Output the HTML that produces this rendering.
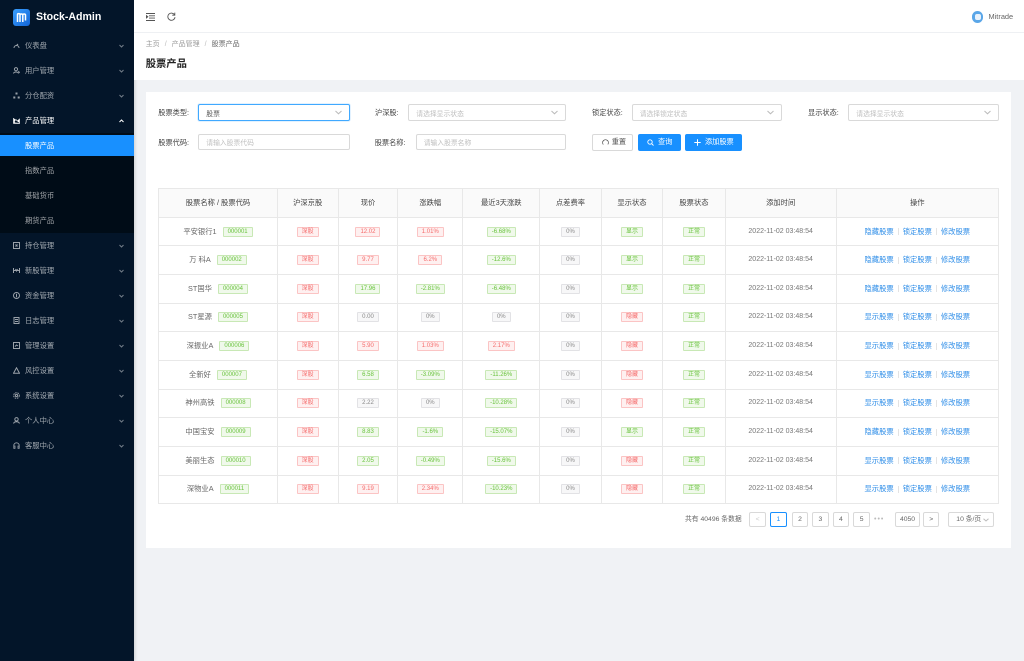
<!DOCTYPE html>
<html><head><meta charset="utf-8">
<style>
*{box-sizing:border-box;margin:0;padding:0}
html,body{width:1024px;height:661px;overflow:hidden}
body{position:relative;background:#f0f2f5;font-family:"Liberation Sans","Noto Sans CJK SC",sans-serif;color:#595959}
.abs{position:absolute}
#side{position:absolute;left:0;top:0;width:134px;height:661px;background:#031529;box-shadow:1px 0 3px rgba(0,0,0,.15)}
.logo{position:absolute;left:12.5px;top:9.3px;width:17px;height:17px;border-radius:3px;background:linear-gradient(135deg,#3aa0ff,#1264d6)}
.brand{position:absolute;left:36px;top:9px;height:17px;line-height:17px;color:#fff;font-weight:bold;font-size:10.6px;white-space:nowrap}
.mi{position:absolute;left:0;width:134px;height:25px;color:rgba(255,255,255,.62);font-size:7.3px;white-space:nowrap}
.mi svg.ic{position:absolute;left:12.5px;top:9px}
.mi span{position:absolute;left:25px;top:0;line-height:25px}
.mi svg.cv{position:absolute;left:119px;top:11px}
#sub{position:absolute;left:0;top:133px;width:134px;height:100px;background:#000c17}
#selbg{position:absolute;left:0;top:135px;width:134px;height:21px;background:#1890ff}
#hdr{position:absolute;left:134px;top:0;width:890px;height:33px;background:#fff;border-bottom:1px solid #eef0f3}
#crumb{position:absolute;left:134px;top:33px;width:890px;height:46.5px;background:#fff}
#card{position:absolute;left:146px;top:92px;width:865px;height:456px;background:#fff}
.lbl{position:absolute;font-size:7.2px;color:#444;line-height:17px;white-space:nowrap}
.inp{position:absolute;height:16.5px;border:1px solid #d9d9d9;border-radius:2px;background:#fff;font-size:6.8px;color:#bfbfbf;padding-left:7px;white-space:nowrap;display:flex;align-items:center}
.inp svg{position:absolute;right:7px;top:5px}
.btn{position:absolute;height:16.4px;border-radius:2px;font-size:7.2px;white-space:nowrap}
.btn span{position:absolute;top:0;line-height:16.4px}
.tbl{position:absolute;left:158.3px;top:188.3px;width:840.7px;border-left:1px solid #e8e8e8;border-top:1px solid #e8e8e8}
.tr{display:flex;border-bottom:1px solid #e8e8e8}
.tr>div{border-right:1px solid #e8e8e8;display:flex;align-items:center;justify-content:center;white-space:nowrap;font-size:7.3px;color:#666}
.tr>div>span{display:block;line-height:10px;height:10px}
.th{height:28.4px;background:#fafafa}
.rw{height:28.66px}
.tr>div:nth-child(1){width:118.4px}
.tr>div:nth-child(2){width:61px}
.tr>div:nth-child(3){width:59.6px}
.tr>div:nth-child(4){width:65px}
.tr>div:nth-child(5){width:77px}
.tr>div:nth-child(6){width:61.4px}
.tr>div:nth-child(7){width:61.6px}
.tr>div:nth-child(8){width:62.4px}
.tr>div:nth-child(9){width:111px}
.rw>div:nth-child(9){color:#777;font-size:7px}
.tr>div:nth-child(10){width:162.3px}
.th>div{color:#444}
.tr>div>span.tg{font-size:6px;height:10px;line-height:8px;padding:0 4px;border-width:1px;border-style:solid;border-radius:1px}
.tr>div>span.g{color:#67c23a;background:#f0f9eb;border-color:#c8e8b5}
.tr>div>span.r{color:#f56c6c;background:#fef0f0;border-color:#fbc4c4}
.tr>div>span.d{color:#888;background:#f7f7f8;border-color:#e2e2e5}
.tr>div>span.nm{margin-right:6px;color:#666}
.ln{color:#2f8ee8}
.sp{display:block;width:1px;height:7px;background:#e3e3e3;margin:0 4px}
.pg{position:absolute;top:511.7px;height:15.8px;border:1px solid #d9d9d9;border-radius:2px;background:#fff;font-size:6.8px;color:#666;text-align:center;line-height:13.8px}
</style></head><body>

<div id="side">
  <div class="logo"><svg width="17" height="17" viewBox="0 0 17 17"><path d="M4.5 13V5.5c0-1.2 2.5-1.2 2.5 0V13M7 6c0-1.4 2.8-1.4 2.8 0v7M9.8 6c0-1.4 2.7-1.4 2.7 0v5.5" stroke="#fff" stroke-width="1.5" fill="none"/></svg></div>
  <div class="brand">Stock-Admin</div>
  <div id="sub"></div>
  <div id="selbg"></div>

  <div class="mi" style="top:33.2px"><svg class="ic" width="7" height="7"><path d="M1 6a2.5 2.5 0 1 1 5 0M3.5 3.5l1.5-1.5" stroke="rgba(255,255,255,.6)" fill="none"/></svg><span>仪表盘</span><svg class="cv" width="5" height="4"><path d="M.5 1l2 2 2-2" stroke="rgba(255,255,255,.45)" fill="none"/></svg></div>
  <div class="mi" style="top:58.2px"><svg class="ic" width="7" height="7"><circle cx="3" cy="2.2" r="1.6" stroke="rgba(255,255,255,.6)" fill="none"/><path d="M.5 6.5c.5-2 4.5-2 5 0M5.5 4l1 2" stroke="rgba(255,255,255,.6)" fill="none"/></svg><span>用户管理</span><svg class="cv" width="5" height="4"><path d="M.5 1l2 2 2-2" stroke="rgba(255,255,255,.45)" fill="none"/></svg></div>
  <div class="mi" style="top:83.2px"><svg class="ic" width="7" height="7"><rect x="2.5" y=".5" width="2" height="2" fill="rgba(255,255,255,.6)"/><rect x=".3" y="4.5" width="2" height="2" fill="rgba(255,255,255,.6)"/><rect x="4.7" y="4.5" width="2" height="2" fill="rgba(255,255,255,.6)"/></svg><span>分仓配资</span><svg class="cv" width="5" height="4"><path d="M.5 1l2 2 2-2" stroke="rgba(255,255,255,.45)" fill="none"/></svg></div>
  <div class="mi" style="top:108.2px;color:#fff"><svg class="ic" width="7" height="7"><path d="M.5 1v5.5h6.5M1.5 5.5V4l1.5-1.5 1.5 1.5 2-2v4" fill="#fff" stroke="#fff" stroke-width=".6"/></svg><span>产品管理</span><svg class="cv" width="5" height="4"><path d="M.5 3l2-2 2 2" stroke="#fff" fill="none"/></svg></div>

  <div class="mi" style="top:133.2px;color:#fff"><span>股票产品</span></div>
  <div class="mi" style="top:158.2px"><span>指数产品</span></div>
  <div class="mi" style="top:183.2px"><span>基础货币</span></div>
  <div class="mi" style="top:208.2px"><span>期货产品</span></div>

  <div class="mi" style="top:233.2px"><svg class="ic" width="7" height="7"><rect x=".5" y=".5" width="6" height="6" stroke="rgba(255,255,255,.6)" fill="none"/><path d="M2.5 2.5l2 2M4.5 2.5l-2 2" stroke="rgba(255,255,255,.6)"/></svg><span>持仓管理</span><svg class="cv" width="5" height="4"><path d="M.5 1l2 2 2-2" stroke="rgba(255,255,255,.45)" fill="none"/></svg></div>
  <div class="mi" style="top:258.2px"><svg class="ic" width="7" height="7"><path d="M.5 1v5M6.5 1v5M.5 3.5h6M2.5 2l1 2 1-2" stroke="rgba(255,255,255,.6)" fill="none"/></svg><span>新股管理</span><svg class="cv" width="5" height="4"><path d="M.5 1l2 2 2-2" stroke="rgba(255,255,255,.45)" fill="none"/></svg></div>
  <div class="mi" style="top:283.2px"><svg class="ic" width="7" height="7"><circle cx="3.5" cy="3.5" r="3" stroke="rgba(255,255,255,.6)" fill="none"/><path d="M3.5 1.8v3.4" stroke="rgba(255,255,255,.6)"/></svg><span>资金管理</span><svg class="cv" width="5" height="4"><path d="M.5 1l2 2 2-2" stroke="rgba(255,255,255,.45)" fill="none"/></svg></div>
  <div class="mi" style="top:308.2px"><svg class="ic" width="7" height="7"><rect x="1" y=".5" width="5" height="6" stroke="rgba(255,255,255,.6)" fill="none"/><path d="M2 2.5h3M2 4.5h3" stroke="rgba(255,255,255,.6)"/></svg><span>日志管理</span><svg class="cv" width="5" height="4"><path d="M.5 1l2 2 2-2" stroke="rgba(255,255,255,.45)" fill="none"/></svg></div>
  <div class="mi" style="top:333.2px"><svg class="ic" width="7" height="7"><rect x=".5" y=".5" width="6" height="6" stroke="rgba(255,255,255,.6)" fill="none"/><path d="M2 4.5l1.5-1.5 1.5 1" stroke="rgba(255,255,255,.6)" fill="none"/></svg><span>管理设置</span><svg class="cv" width="5" height="4"><path d="M.5 1l2 2 2-2" stroke="rgba(255,255,255,.45)" fill="none"/></svg></div>
  <div class="mi" style="top:358.2px"><svg class="ic" width="7" height="7"><path d="M3.5 .8L6.5 6.3H.5z" stroke="rgba(255,255,255,.6)" fill="none"/></svg><span>风控设置</span><svg class="cv" width="5" height="4"><path d="M.5 1l2 2 2-2" stroke="rgba(255,255,255,.45)" fill="none"/></svg></div>
  <div class="mi" style="top:383.2px"><svg class="ic" width="7" height="7"><circle cx="3.5" cy="3.5" r="2.8" stroke="rgba(255,255,255,.6)" fill="none" stroke-dasharray="1.5 .8"/><circle cx="3.5" cy="3.5" r="1.1" stroke="rgba(255,255,255,.6)" fill="none"/></svg><span>系统设置</span><svg class="cv" width="5" height="4"><path d="M.5 1l2 2 2-2" stroke="rgba(255,255,255,.45)" fill="none"/></svg></div>
  <div class="mi" style="top:408.2px"><svg class="ic" width="7" height="7"><circle cx="3.5" cy="2.3" r="1.7" stroke="rgba(255,255,255,.6)" fill="none"/><path d="M.6 6.6c.4-2.4 5.4-2.4 5.8 0" stroke="rgba(255,255,255,.6)" fill="none"/></svg><span>个人中心</span><svg class="cv" width="5" height="4"><path d="M.5 1l2 2 2-2" stroke="rgba(255,255,255,.45)" fill="none"/></svg></div>
  <div class="mi" style="top:433.2px"><svg class="ic" width="7" height="7"><path d="M.8 5V3.5a2.7 2.7 0 0 1 5.4 0V5M.8 4h1.2v2.3H.8zM5 4h1.2v2.3H5z" stroke="rgba(255,255,255,.6)" fill="none" stroke-width=".8"/></svg><span>客服中心</span><svg class="cv" width="5" height="4"><path d="M.5 1l2 2 2-2" stroke="rgba(255,255,255,.45)" fill="none"/></svg></div>
</div>

<div id="hdr">
  <svg class="abs" style="left:11.5px;top:12.5px" width="9" height="8"><path d="M0 .5h9M3 2.8h6M3 5.1h6M0 7.5h9M.2 2.5l1.6 1.3-1.6 1.3z" stroke="#555" stroke-width=".9" fill="#555"/></svg>
  <svg class="abs" style="left:33px;top:12px" width="9" height="9"><path d="M7.6 3A3.6 3.6 0 1 0 8 5.2M7.8 .6v2.6H5.2" stroke="#555" stroke-width=".9" fill="none"/></svg>
  <div class="abs" style="left:837.7px;top:11px;width:11.6px;height:11.6px;border-radius:50%;background:#5aa6e8"></div>
  <div class="abs" style="left:840.5px;top:14px;width:6px;height:5.6px;border-radius:2px;background:#e8f2fc"></div>
  <div class="abs" style="left:854.5px;top:9px;line-height:15px;font-size:7.4px;color:#666">Mitrade</div>
</div>

<div id="crumb">
  <div class="abs" style="left:11.7px;top:7px;line-height:10px;font-size:7px;color:#999;white-space:nowrap">主页<span style="margin:0 5px;color:#bbb">/</span>产品管理<span style="margin:0 5px;color:#bbb">/</span><span style="color:#666">股票产品</span></div>
  <div class="abs" style="left:11.7px;top:23.5px;line-height:15px;font-size:10.3px;color:#222;font-weight:bold;white-space:nowrap">股票产品</div>
</div>

<div id="card"></div>

<!-- form row 1 -->
<div class="lbl" style="left:158.3px;top:104px">股票类型:</div>
<div class="inp" style="left:198.3px;top:104.3px;width:151.4px;border-color:#40a9ff;box-shadow:0 0 0 1px rgba(24,144,255,.12);color:#555">股票<svg width="7" height="5"><path d="M.5 1l3 2.8L6.5 1" stroke="#bbb" fill="none"/></svg></div>
<div class="lbl" style="left:375px;top:104px">沪深股:</div>
<div class="inp" style="left:408.3px;top:104.3px;width:157.4px">请选择显示状态<svg width="7" height="5"><path d="M.5 1l3 2.8L6.5 1" stroke="#bbb" fill="none"/></svg></div>
<div class="lbl" style="left:592px;top:104px">锁定状态:</div>
<div class="inp" style="left:631.7px;top:104.3px;width:150.6px">请选择锁定状态<svg width="7" height="5"><path d="M.5 1l3 2.8L6.5 1" stroke="#bbb" fill="none"/></svg></div>
<div class="lbl" style="left:808px;top:104px">显示状态:</div>
<div class="inp" style="left:848.3px;top:104.3px;width:150.4px">请选择显示状态<svg width="7" height="5"><path d="M.5 1l3 2.8L6.5 1" stroke="#bbb" fill="none"/></svg></div>

<!-- form row 2 -->
<div class="lbl" style="left:158.3px;top:133.5px">股票代码:</div>
<div class="inp" style="left:198.3px;top:133.7px;width:151.4px">请输入股票代码</div>
<div class="lbl" style="left:374.7px;top:133.5px">股票名称:</div>
<div class="inp" style="left:415.7px;top:133.7px;width:150px">请输入股票名称</div>

<div class="btn" style="left:591.7px;top:134.3px;width:41.6px;border:1px solid #d9d9d9;background:#fff;color:#555"><svg class="abs" style="left:9px;top:4.2px" width="7" height="7"><path d="M1.3 5.5A2.9 2.9 0 1 1 5.8 5.4" stroke="#555" stroke-width=".8" fill="none"/></svg><span style="left:19px;line-height:14.4px">重置</span></div>
<div class="btn" style="left:638.3px;top:134.3px;width:42.4px;background:#1890ff;color:#fff"><svg class="abs" style="left:8.5px;top:4.6px" width="7" height="7"><circle cx="3" cy="3" r="2.2" stroke="#fff" stroke-width=".9" fill="none"/><path d="M4.6 4.6l1.9 1.9" stroke="#fff" stroke-width=".9"/></svg><span style="left:19.7px">查询</span></div>
<div class="btn" style="left:685.3px;top:134.3px;width:57px;background:#1890ff;color:#fff"><svg class="abs" style="left:8.5px;top:5px" width="7" height="7"><path d="M3.5 .3v6.4M.3 3.5h6.4" stroke="#fff" stroke-width="1"/></svg><span style="left:19.7px">添加股票</span></div>

<!-- table -->
<div class="tbl">
 <div class="tr th"><div><span>股票名称 / 股票代码</span></div><div><span>沪深京股</span></div><div><span>现价</span></div><div><span>涨跌幅</span></div><div><span>最近3天涨跌</span></div><div><span>点差费率</span></div><div><span>显示状态</span></div><div><span>股票状态</span></div><div><span>添加时间</span></div><div><span>操作</span></div></div>

 <div class="tr rw"><div><span class="nm">平安银行1</span><span class="tg g">000001</span></div><div><span class="tg r">深股</span></div><div><span class="tg r">12.02</span></div><div><span class="tg r">1.01%</span></div><div><span class="tg g">-6.68%</span></div><div><span class="tg d">0%</span></div><div><span class="tg g">显示</span></div><div><span class="tg g">正常</span></div><div><span>2022-11-02 03:48:54</span></div><div><span class="ln">隐藏股票</span><i class="sp"></i><span class="ln">锁定股票</span><i class="sp"></i><span class="ln">修改股票</span></div></div>

 <div class="tr rw"><div><span class="nm">万 科A</span><span class="tg g">000002</span></div><div><span class="tg r">深股</span></div><div><span class="tg r">9.77</span></div><div><span class="tg r">6.2%</span></div><div><span class="tg g">-12.6%</span></div><div><span class="tg d">0%</span></div><div><span class="tg g">显示</span></div><div><span class="tg g">正常</span></div><div><span>2022-11-02 03:48:54</span></div><div><span class="ln">隐藏股票</span><i class="sp"></i><span class="ln">锁定股票</span><i class="sp"></i><span class="ln">修改股票</span></div></div>

 <div class="tr rw"><div><span class="nm">ST国华</span><span class="tg g">000004</span></div><div><span class="tg r">深股</span></div><div><span class="tg g">17.96</span></div><div><span class="tg g">-2.81%</span></div><div><span class="tg g">-6.48%</span></div><div><span class="tg d">0%</span></div><div><span class="tg g">显示</span></div><div><span class="tg g">正常</span></div><div><span>2022-11-02 03:48:54</span></div><div><span class="ln">隐藏股票</span><i class="sp"></i><span class="ln">锁定股票</span><i class="sp"></i><span class="ln">修改股票</span></div></div>

 <div class="tr rw"><div><span class="nm">ST星源</span><span class="tg g">000005</span></div><div><span class="tg r">深股</span></div><div><span class="tg d">0.00</span></div><div><span class="tg d">0%</span></div><div><span class="tg d">0%</span></div><div><span class="tg d">0%</span></div><div><span class="tg r">隐藏</span></div><div><span class="tg g">正常</span></div><div><span>2022-11-02 03:48:54</span></div><div><span class="ln">显示股票</span><i class="sp"></i><span class="ln">锁定股票</span><i class="sp"></i><span class="ln">修改股票</span></div></div>

 <div class="tr rw"><div><span class="nm">深振业A</span><span class="tg g">000006</span></div><div><span class="tg r">深股</span></div><div><span class="tg r">5.90</span></div><div><span class="tg r">1.03%</span></div><div><span class="tg r">2.17%</span></div><div><span class="tg d">0%</span></div><div><span class="tg r">隐藏</span></div><div><span class="tg g">正常</span></div><div><span>2022-11-02 03:48:54</span></div><div><span class="ln">显示股票</span><i class="sp"></i><span class="ln">锁定股票</span><i class="sp"></i><span class="ln">修改股票</span></div></div>

 <div class="tr rw"><div><span class="nm">全新好</span><span class="tg g">000007</span></div><div><span class="tg r">深股</span></div><div><span class="tg g">6.58</span></div><div><span class="tg g">-3.09%</span></div><div><span class="tg g">-11.26%</span></div><div><span class="tg d">0%</span></div><div><span class="tg r">隐藏</span></div><div><span class="tg g">正常</span></div><div><span>2022-11-02 03:48:54</span></div><div><span class="ln">显示股票</span><i class="sp"></i><span class="ln">锁定股票</span><i class="sp"></i><span class="ln">修改股票</span></div></div>

 <div class="tr rw"><div><span class="nm">神州高铁</span><span class="tg g">000008</span></div><div><span class="tg r">深股</span></div><div><span class="tg d">2.22</span></div><div><span class="tg d">0%</span></div><div><span class="tg g">-10.28%</span></div><div><span class="tg d">0%</span></div><div><span class="tg r">隐藏</span></div><div><span class="tg g">正常</span></div><div><span>2022-11-02 03:48:54</span></div><div><span class="ln">显示股票</span><i class="sp"></i><span class="ln">锁定股票</span><i class="sp"></i><span class="ln">修改股票</span></div></div>

 <div class="tr rw"><div><span class="nm">中国宝安</span><span class="tg g">000009</span></div><div><span class="tg r">深股</span></div><div><span class="tg g">8.83</span></div><div><span class="tg g">-1.6%</span></div><div><span class="tg g">-15.07%</span></div><div><span class="tg d">0%</span></div><div><span class="tg g">显示</span></div><div><span class="tg g">正常</span></div><div><span>2022-11-02 03:48:54</span></div><div><span class="ln">隐藏股票</span><i class="sp"></i><span class="ln">锁定股票</span><i class="sp"></i><span class="ln">修改股票</span></div></div>

 <div class="tr rw"><div><span class="nm">美丽生态</span><span class="tg g">000010</span></div><div><span class="tg r">深股</span></div><div><span class="tg g">2.05</span></div><div><span class="tg g">-0.49%</span></div><div><span class="tg g">-15.6%</span></div><div><span class="tg d">0%</span></div><div><span class="tg r">隐藏</span></div><div><span class="tg g">正常</span></div><div><span>2022-11-02 03:48:54</span></div><div><span class="ln">显示股票</span><i class="sp"></i><span class="ln">锁定股票</span><i class="sp"></i><span class="ln">修改股票</span></div></div>

 <div class="tr rw"><div><span class="nm">深物业A</span><span class="tg g">000011</span></div><div><span class="tg r">深股</span></div><div><span class="tg r">9.19</span></div><div><span class="tg r">2.34%</span></div><div><span class="tg g">-10.23%</span></div><div><span class="tg d">0%</span></div><div><span class="tg r">隐藏</span></div><div><span class="tg g">正常</span></div><div><span>2022-11-02 03:48:54</span></div><div><span class="ln">显示股票</span><i class="sp"></i><span class="ln">锁定股票</span><i class="sp"></i><span class="ln">修改股票</span></div></div>
</div>

<!-- pagination -->
<div class="abs" style="left:685px;top:511.7px;line-height:15.8px;font-size:6.8px;color:#666;white-space:nowrap">共有 40496 条数据</div>
<div class="pg" style="left:749.3px;width:16.7px;color:#ccc">&lt;</div>
<div class="pg" style="left:770px;width:16.7px;border-color:#1890ff;color:#1890ff">1</div>
<div class="pg" style="left:791.7px;width:16.6px">2</div>
<div class="pg" style="left:812.3px;width:16.3px">3</div>
<div class="pg" style="left:832.7px;width:16.3px">4</div>
<div class="pg" style="left:853.3px;width:16.7px">5</div>
<div class="abs" style="left:874px;top:511.7px;line-height:15.8px;font-size:7px;color:#bbb;letter-spacing:1px">•••</div>
<div class="pg" style="left:895px;width:25px">4050</div>
<div class="pg" style="left:923.3px;width:16px">&gt;</div>
<div class="pg" style="left:948.3px;width:46px;text-align:left;padding-left:7px">10 条/页<svg class="abs" style="right:4px;top:5px" width="6" height="4"><path d="M.5 .8l2.5 2.2L5.5 .8" stroke="#bbb" fill="none"/></svg></div>

</body></html>
